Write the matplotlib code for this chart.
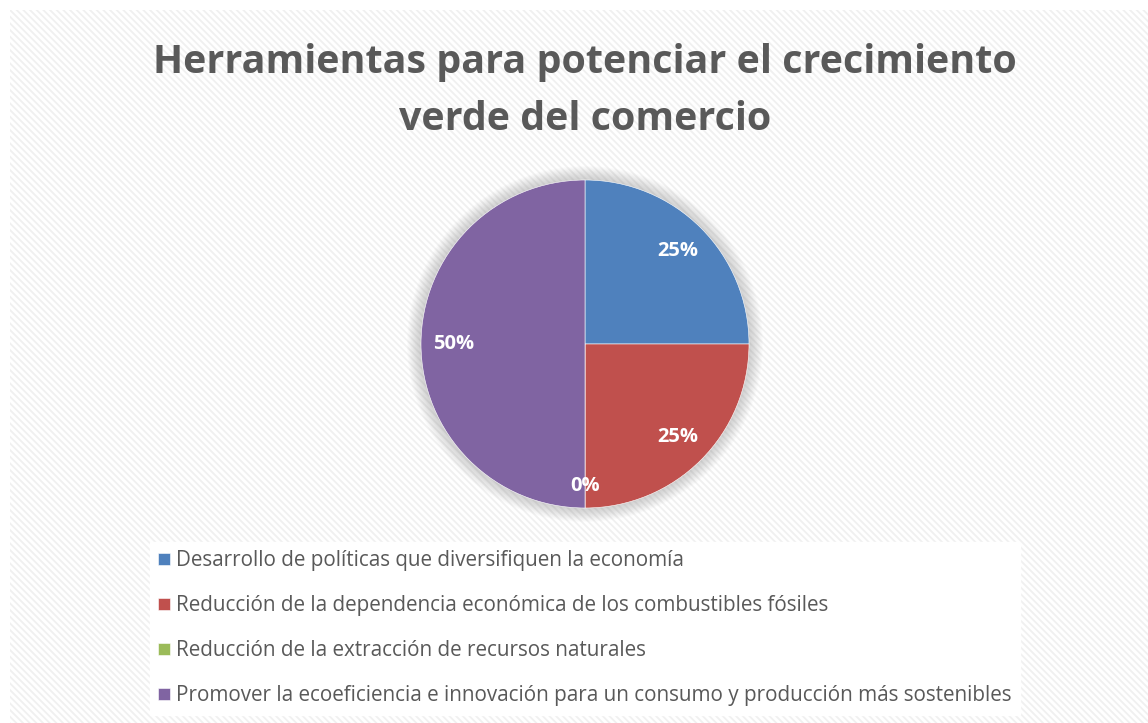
import numpy as np
import matplotlib.pyplot as plt
from matplotlib.patches import Rectangle, Circle

categories = [
    "Desarrollo de políticas que diversifiquen la economía",
    "Reducción de la dependencia económica de los combustibles fósiles",
    "Reducción de la extracción de recursos naturales",
    "Promover la ecoeficiencia e innovación para un consumo y producción más sostenibles",
]
values = [25, 25, 0, 50]
colors = ["#4F81BD", "#C0504D", "#9BBB59", "#8064A2"]

plt.rcParams['font.family'] = ['Open Sans', 'DejaVu Sans']
plt.rcParams['hatch.color'] = '#f0f0f0'
plt.rcParams['hatch.linewidth'] = 1.3

W, H = 1148, 723
fig = plt.figure(figsize=(W / 100, H / 100), dpi=100)
fig.patch.set_facecolor('white')

# hatched chart area background
bg = Rectangle((10 / W, 0), 1, 1 - 10 / H, transform=fig.transFigure,
               facecolor='white', edgecolor='#f0f0f0', linewidth=0,
               hatch='\\\\\\\\\\', zorder=-5)
fig.patches.append(bg)

# pie
cx, cy, r = 585, 344, 164
ax = fig.add_axes([(cx - r) / W, (H - cy - r) / H, 2 * r / W, 2 * r / H])
ax.set_zorder(1)
for k in range(12):
    ax.add_patch(Circle((0, 0), 1.0 + 0.007 * (12 - k), facecolor='#808080',
                        edgecolor='none', alpha=0.03, zorder=0, clip_on=False))
wedges, texts, autotexts = ax.pie(values, colors=colors, startangle=90, counterclock=False,
                                  autopct='%1.0f%%', pctdistance=0.8,
                                  wedgeprops=dict(edgecolor='white', linewidth=0.4),
                                  textprops=dict(color='white', fontsize=14.5, fontweight='bold'))
for w in wedges:
    w.set_zorder(2)
for t in autotexts:
    t.set_zorder(3)
# zero slice label sits a bit lower, near the rim
x0, y0 = autotexts[2].get_position()
autotexts[2].set_position((x0, y0 * 1.08))
ax.set_xlim(-1, 1)
ax.set_ylim(-1, 1)
ax.set_aspect('equal')
ax.axis('off')

fig.text(cx / W, 1 - 62 / H, "Herramientas para potenciar el crecimiento",
         ha='center', va='center', fontsize=28.4, fontweight='bold', color='#595959')
fig.text(cx / W, 1 - 120 / H, "verde del comercio",
         ha='center', va='center', fontsize=28.4, fontweight='bold', color='#595959')

leg = fig.legend(wedges, categories, loc='upper left', bbox_to_anchor=(150 / W, 1 - 542 / H),
                 frameon=True, facecolor='white', edgecolor='white', framealpha=1,
                 fancybox=False, fontsize=14.9, labelcolor='#595959',
                 handlelength=0.58, handleheight=0.58, handletextpad=0.3,
                 labelspacing=1.16, borderpad=0.4, borderaxespad=0)

fig.savefig('out.png', dpi=100)
